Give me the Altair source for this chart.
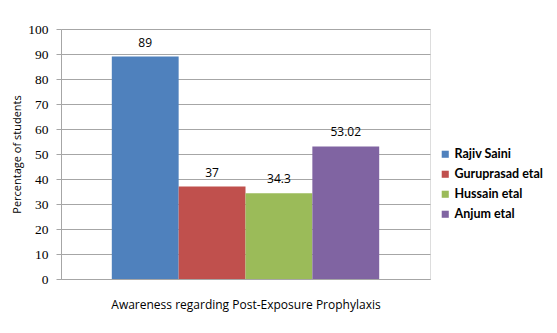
import altair as alt
import pandas as pd

series = ["Rajiv Saini", "Guruprasad etal", "Hussain etal", "Anjum etal"]
values = [89, 37, 34.3, 53.02]
labels = ["89", "37", "34.3", "53.02"]
colors = ["#4F81BD", "#C0504D", "#9BBB59", "#8064A2"]
y_ticks = [0, 10, 20, 30, 40, 50, 60, 70, 80, 90, 100]

df = pd.DataFrame({"series": series, "value": values, "label": labels})

x_enc = alt.X(
    "series:N",
    sort=series,
    scale=alt.Scale(paddingInner=0, paddingOuter=0.76),
    axis=alt.Axis(
        title="Awareness regarding Post-Exposure Prophylaxis",
        labels=False,
        ticks=False,
        domainColor="#A6A6A6",
        titleFont="Open Sans",
        titleFontSize=12,
        titleFontWeight="normal",
        titleColor="#000000",
        titlePadding=20,
    ),
)

y_axis = alt.Axis(
    values=y_ticks,
    tickCount=11,
    labelOverlap=False,
    title="Percentage of students",
    titleFont="Open Sans",
    titleFontSize=11,
    titleFontWeight="normal",
    titleColor="#000000",
    titlePadding=5,
    labelFont="Liberation Serif",
    labelFontSize=13.5,
    labelColor="#000000",
    labelPadding=8,
    tickSize=5,
    tickColor="#A6A6A6",
    domainColor="#A6A6A6",
    gridColor="#A6A6A6",
    grid=True,
)

y_enc = alt.Y("value:Q", scale=alt.Scale(domain=[0, 100]), axis=y_axis)

bars = alt.Chart(df).mark_bar().encode(
    x=x_enc,
    y=y_enc,
    color=alt.Color(
        "series:N",
        sort=series,
        scale=alt.Scale(domain=series, range=colors),
        legend=alt.Legend(
            title=None,
            orient="none",
            legendX=378,
            legendY=119,
            symbolType="square",
            symbolSize=50,
            symbolStrokeWidth=0,
            labelFont="Lato",
            labelFontSize=12.5,
            labelFontWeight="bold",
            labelColor="#000000",
            rowPadding=7,
            labelOffset=3,
        ),
    ),
)

text = alt.Chart(df).mark_text(
    baseline="bottom", dy=-7, font="Open Sans", fontSize=12, color="#000000"
).encode(
    x=alt.X("series:N", sort=series),
    y=y_enc,
    text="label:N",
)

chart = (
    alt.layer(bars, text)
    .properties(
        width=369,
        height=250,
        padding={"left": 53, "top": 21, "right": 119, "bottom": 46},
        autosize=alt.AutoSizeParams(type="none"),
    )
    .configure_view(stroke=None)
    .configure(background="#FFFFFF")
)

chart.save("out.html", embed_options={"renderer": "svg", "actions": False})
